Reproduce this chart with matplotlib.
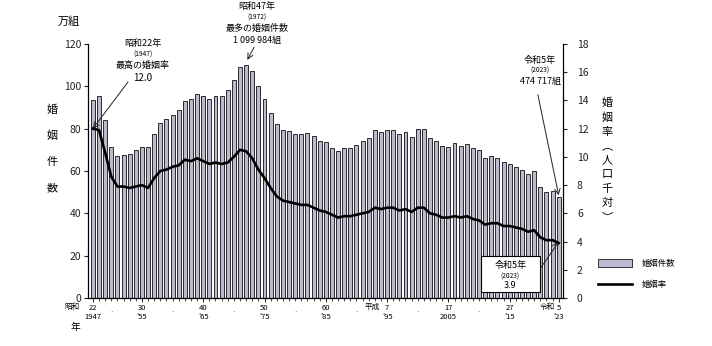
import matplotlib
matplotlib.use("Agg")
import matplotlib.pyplot as plt
import numpy as np

plt.rcParams['font.family'] = ['Noto Sans CJK JP', 'DejaVu Sans']

years = list(range(1947, 2024))
marriages = [93.4, 95.4, 84.2, 71.5, 67.2, 67.6, 68.2, 69.8, 71.5, 71.5,
             77.3, 82.7, 84.8, 86.6, 89.0, 92.9, 93.8, 96.4, 95.5, 94.0,
             95.3, 95.6, 98.4, 102.9, 109.2, 110.0, 107.2, 100.1, 94.2, 87.2,
             82.1, 79.3, 78.9, 77.5, 77.7, 78.1, 76.3, 74.0, 73.6, 71.0,
             69.6, 70.8, 70.8, 72.2, 74.2, 75.4, 79.3, 78.2, 79.2, 79.5,
             77.6, 78.5, 76.2, 79.8, 80.0, 75.7, 74.0, 72.0, 71.4, 73.1,
             72.0, 72.6, 70.8, 70.0, 66.2, 66.9, 66.1, 64.4, 63.5, 62.1,
             60.7, 58.6, 59.9, 52.6, 50.1, 50.5, 47.5]
rates = [12.0, 11.9, 10.3, 8.6, 7.9, 7.9, 7.8, 7.9, 8.0, 7.8,
         8.5, 9.0, 9.1, 9.3, 9.4, 9.8, 9.7, 9.9, 9.7, 9.5,
         9.6, 9.5, 9.6, 10.0, 10.5, 10.4, 9.9, 9.1, 8.5, 7.8,
         7.2, 6.9, 6.8, 6.7, 6.6, 6.6, 6.4, 6.2, 6.1, 5.9,
         5.7, 5.8, 5.8, 5.9, 6.0, 6.1, 6.4, 6.3, 6.4, 6.4,
         6.2, 6.3, 6.1, 6.4, 6.4, 6.0, 5.9, 5.7, 5.7, 5.8,
         5.7, 5.8, 5.6, 5.5, 5.2, 5.3, 5.3, 5.1, 5.1, 5.0,
         4.9, 4.7, 4.8, 4.3, 4.1, 4.1, 3.9]

tick_years = [1947, 1955, 1965, 1975, 1985, 1995, 2005, 2015, 2023]
tick_labels = ["22\n1947", "30\n'55", "40\n'65", "50\n'75", "60\n'85",
               "7\n'95", "17\n2005", "27\n'15", "5\n'23"]
dot_years = [1950, 1960, 1970, 1980, 1990, 2000, 2010]

fig = plt.figure(figsize=(7.12, 3.46), dpi=100)
ax = fig.add_axes([88/712, 1-298/346, (563-88)/712, (298-44)/346])
x = np.arange(len(years))
ax.bar(x, marriages, width=0.64, color='#bdb9d0', edgecolor='#2b2b2b', linewidth=0.7, zorder=2)
ax.set_xlim(-0.8, len(years) - 0.3)
ax.set_ylim(0, 120)
ax.set_yticks(range(0, 121, 20))
ax.tick_params(axis='y', labelsize=7.5, length=3, width=0.8, pad=2, colors='#222')
for s in ['top', 'right']:
    ax.spines[s].set_visible(False)
ax.spines['left'].set_linewidth(0.9)
ax.spines['bottom'].set_linewidth(0.9)

ax.set_xticks([y - 1947 for y in tick_years])
ax.set_xticklabels(tick_labels, fontsize=5.5, linespacing=1.3)
ax.set_xticks(x, minor=True)
ax.tick_params(axis='x', which='major', length=3, width=0.6, pad=1)
ax.tick_params(axis='x', which='minor', length=2, width=0.5)
for dy in dot_years:
    ax.text(dy - 1947, -3.5, '.', ha='center', va='top', fontsize=6, color='#444')

ax2 = ax.twinx()
ax2.plot(x, rates, color='black', linewidth=1.9, zorder=5)
ax2.set_ylim(0, 18)
ax2.set_yticks(range(0, 19, 2))
ax2.tick_params(axis='y', labelsize=7.5, length=3, width=0.8, pad=7, colors='#222')
for s in ['top', 'left', 'bottom']:
    ax2.spines[s].set_visible(False)
ax2.spines['right'].set_linewidth(0.9)

# axis titles
fig.text(69/712, 1-22/346, '万組', fontsize=8, ha='center', va='center')
for i, ch in enumerate('婚姻件数'):
    fig.text(52/712, 1-(110 + i*26)/346, ch, fontsize=8, ha='center', va='center')
for i, ch in enumerate(['婚', '姻', '率', '︵', '人', '口', '千', '対', '︶']):
    fig.text(607/712, 1-(103 + i*14.3)/346, ch, fontsize=8, ha='center', va='center')

fig.text(72/712, 1-306.5/346, '昭和', fontsize=5.5, ha='center', va='center')
fig.text(75/712, 1-327/346, '年', fontsize=7, ha='center', va='center')
fig.text(372/712, 1-306.5/346, '平成', fontsize=5.5, ha='center', va='center')
fig.text(547/712, 1-306.5/346, '令和', fontsize=5.5, ha='center', va='center')

# annotations
def label_block(xc, ytop, lines):
    y = ytop
    for txt, fs, gap in lines:
        fig.text(xc/712, 1-y/346, txt, fontsize=fs, ha='center', va='top')
        y += gap

label_block(143, 39, [('昭和22年', 6.5, 12), ('(1947)', 4.8, 10), ('最高の婚姻率', 6.5, 12), ('12.0', 7, 12)])
label_block(257, 2, [('昭和47年', 6.5, 12), ('(1972)', 4.8, 10), ('最多の婚姻件数', 6.5, 12), ('1 099 984組', 6.5, 12)])
label_block(540, 56, [('令和5年', 6.5, 11), ('(2023)', 4.8, 10), ('474 717組', 6.5, 12)])

arrow = dict(arrowstyle='->', color='#222', lw=0.7, shrinkA=0, shrinkB=0)
ax.annotate('', xy=(0, 80), xytext=((128-88)/475*77.5 - 0.8, 120*(298-82)/254),
            arrowprops=arrow)
ax.annotate('', xy=(25.2, 112.5), xytext=(26.3, 118.5), arrowprops=arrow, annotation_clip=False)
ax.annotate('', xy=(76, 48.5), xytext=(72.6, 96), arrowprops=arrow)

# boxed annotation
ax.add_patch(plt.Rectangle((63.3, 3.0), 9.6, 17.0, facecolor='white', edgecolor='black',
                           linewidth=0.8, zorder=6))
ax.text(68.1, 17.6, '令和5年', fontsize=6.5, ha='center', va='top', zorder=7)
ax.text(68.1, 12.2, '(2023)', fontsize=4.8, ha='center', va='top', zorder=7)
ax.text(68.1, 7.8, '3.9', fontsize=6.5, ha='center', va='top', zorder=7)
ax.annotate('', xy=(76, 26.5), xytext=(73.0, 14.0), arrowprops=dict(arrow, zorder=8))

# legend
fig.patches.append(plt.Rectangle((598/712, 1-267/346), 34/712, 8/346, facecolor='#bdb9d0',
                                 edgecolor='#333', linewidth=0.7, transform=fig.transFigure))
fig.lines.append(plt.Line2D([598/712, 632/712], [1-284/346, 1-284/346], color='black',
                            linewidth=1.9, transform=fig.transFigure))
fig.text(642/712, 1-263/346, '婚姻件数', fontsize=6, ha='left', va='center')
fig.text(642/712, 1-284/346, '婚姻率', fontsize=6, ha='left', va='center')

fig.savefig('out.png', dpi=100)
